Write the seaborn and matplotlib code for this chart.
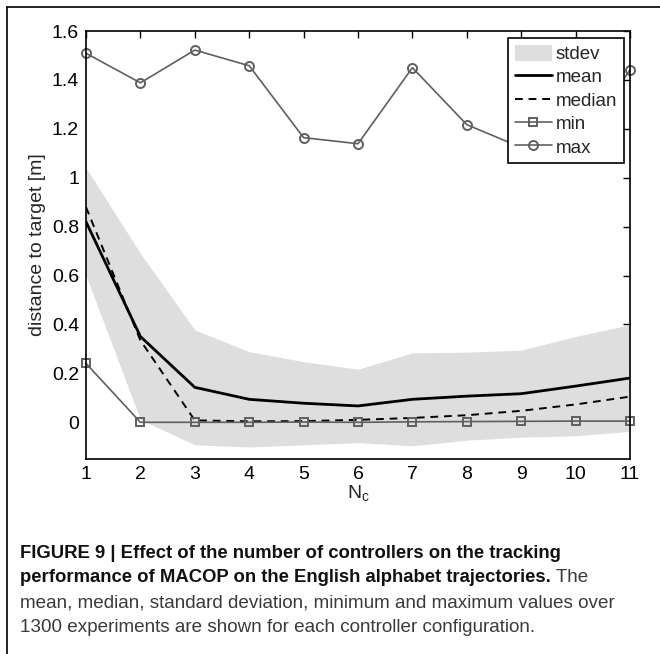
import matplotlib
matplotlib.use("Agg")
import matplotlib.pyplot as plt
from matplotlib.lines import Line2D
import numpy as np
import pandas as pd
import seaborn as sns

# ---- data ----
nc = [1, 2, 3, 4, 5, 6, 7, 8, 9, 10, 11]
mean_vals = [0.82, 0.351, 0.143, 0.094, 0.078, 0.067, 0.094, 0.107, 0.117, 0.148, 0.181]
median_vals = [0.88, 0.335, 0.008, 0.004, 0.005, 0.010, 0.018, 0.029, 0.047, 0.073, 0.105]
std_vals = [0.22, 0.34, 0.235, 0.195, 0.17, 0.15, 0.19, 0.18, 0.178, 0.203, 0.218]
min_vals = [0.241, 0.0, 0.0, 0.0, 0.001, 0.0, 0.002, 0.003, 0.004, 0.005, 0.005]
max_vals = [1.509, 1.388, 1.522, 1.458, 1.164, 1.139, 1.450, 1.217, 1.124, 1.12, 1.441]
x_ticks = [1, 2, 3, 4, 5, 6, 7, 8, 9, 10, 11]
y_ticks = [0, 0.2, 0.4, 0.6, 0.8, 1.0, 1.2, 1.4, 1.6]
y_ticklabels = ["0", "0.2", "0.4", "0.6", "0.8", "1", "1.2", "1.4", "1.6"]
legend_labels = ["stdev", "mean", "median", "min", "max"]
x_label = r"$\mathregular{N_c}$"
y_label = "distance to target [m]"
caption_bold_1 = "FIGURE 9 | Effect of the number of controllers on the tracking"
caption_bold_2 = "performance of MACOP on the English alphabet trajectories."
caption_reg_2 = " The"
caption_reg_3 = "mean, median, standard deviation, minimum and maximum values over"
caption_reg_4 = "1300 experiments are shown for each controller configuration."

df = pd.DataFrame({"nc": nc, "mean": mean_vals, "median": median_vals,
                   "std": std_vals, "min": min_vals, "max": max_vals})
df["lo"] = df["mean"] - df["std"]
df["hi"] = df["mean"] + df["std"]

sns.set_style("white")
plt.rcParams["font.family"] = ["Liberation Sans", "DejaVu Sans"]
plt.rcParams["mathtext.fontset"] = "custom"
plt.rcParams["mathtext.rm"] = "Liberation Sans"

W, H = 660, 654
fig = plt.figure(figsize=(W / 100, H / 100), dpi=100)
fig.patch.set_facecolor("white")
ax = fig.add_axes([86 / W, 1 - 459 / H, (630 - 86) / W, (459 - 31) / H])

gray = "#5f5f5f"
ax.fill_between(df["nc"], df["lo"], df["hi"], color="#dedede", lw=0, label=legend_labels[0])
sns.lineplot(data=df, x="nc", y="mean", ax=ax, color="black", lw=2.0, label=legend_labels[1])
sns.lineplot(data=df, x="nc", y="median", ax=ax, color="black", lw=1.4,
             linestyle=(0, (4, 3)), label=legend_labels[2])
sns.lineplot(data=df, x="nc", y="min", ax=ax, color=gray, lw=1.2, marker="s",
             markersize=5.5, markerfacecolor="none", markeredgecolor=gray,
             markeredgewidth=1.4, label=legend_labels[3], clip_on=False)
sns.lineplot(data=df, x="nc", y="max", ax=ax, color=gray, lw=1.2, marker="o",
             markersize=6.5, markerfacecolor="none", markeredgecolor=gray,
             markeredgewidth=1.4, label=legend_labels[4], clip_on=False)

ax.set_xlim(1, 11)
ax.set_ylim(-0.15, 1.6)
ax.set_xticks(x_ticks)
ax.set_xticklabels([str(v) for v in x_ticks])
ax.set_yticks(y_ticks)
ax.set_yticklabels(y_ticklabels)
ax.tick_params(direction="in", length=5, width=1, top=True, right=True,
               labelsize=14, pad=5, colors="black")
for s in ax.spines.values():
    s.set_visible(True)
    s.set_color("black")
    s.set_linewidth(1.2)
ax.set_xlabel(x_label, fontsize=14, labelpad=0)
ax.set_ylabel(y_label, fontsize=14, labelpad=4)

leg = ax.legend(loc="upper left", bbox_to_anchor=(508 / W, 1 - 38 / H),
                bbox_transform=fig.transFigure, borderaxespad=0, fancybox=False,
                frameon=True, edgecolor="black", fontsize=13.5, handlelength=2.0,
                handleheight=0.95, handletextpad=0.2, borderpad=0.35,
                labelspacing=0.26, framealpha=1)
leg.get_frame().set_linewidth(1.2)
leg.set_zorder(10)

# outer border (top and left edges)
fig.add_artist(Line2D([7 / W, 1.0], [1 - 7 / H, 1 - 7 / H], transform=fig.transFigure,
                      color="black", lw=1.2))
fig.add_artist(Line2D([7 / W, 7 / W], [0, 1 - 7 / H], transform=fig.transFigure,
                      color="black", lw=1.2))

# caption
cap_bold_fs = 13.35
cap_reg_fs = 13.6
x0 = 20 / W
ys = [554, 578, 603, 627]
fig.text(x0, 1 - ys[0] / H, caption_bold_1, fontsize=cap_bold_fs, fontweight="bold",
         va="center", ha="left", color="#111111")
t2 = fig.text(x0, 1 - ys[1] / H, caption_bold_2, fontsize=cap_bold_fs, fontweight="bold",
              va="center", ha="left", color="#111111")
fig.canvas.draw()
bb = t2.get_window_extent(renderer=fig.canvas.get_renderer())
fig.text(bb.x1 / W, 1 - ys[1] / H, caption_reg_2, fontsize=cap_reg_fs, va="center",
         ha="left", color="#3a3a3a")
fig.text(x0, 1 - ys[2] / H, caption_reg_3, fontsize=cap_reg_fs, va="center", ha="left",
         color="#3a3a3a")
fig.text(x0, 1 - ys[3] / H, caption_reg_4, fontsize=cap_reg_fs, va="center", ha="left",
         color="#3a3a3a")

fig.savefig("out.png", dpi=100)
